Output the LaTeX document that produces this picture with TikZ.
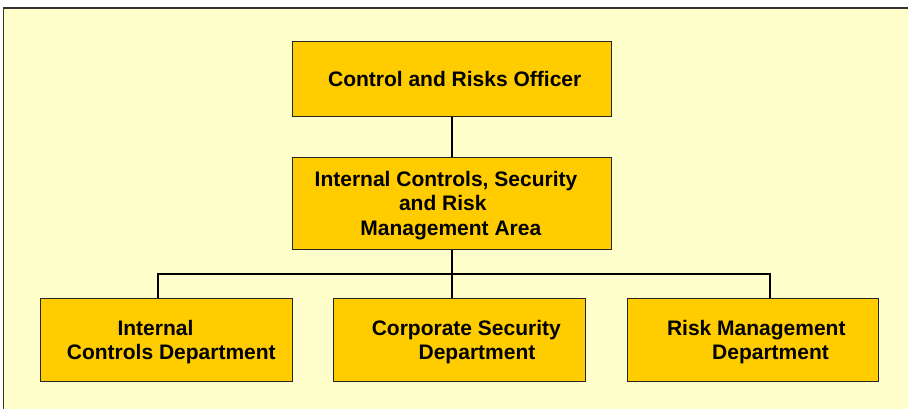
\documentclass[tikz,border=0pt]{standalone}
\usepackage{fontspec}
\setmainfont{Liberation Sans}
\definecolor{bgyellow}{HTML}{FFFFCC}
\definecolor{boxgold}{HTML}{FFCC00}
\definecolor{framegray}{HTML}{333333}
\begin{document}
\begin{tikzpicture}[x=1pt,y=-1pt,
  orgbox/.style={draw=black!85,line width=1pt,fill=boxgold,rectangle,inner sep=0pt},
  txt/.style={anchor=base,inner sep=0pt,font=\fontsize{21}{24.5}\selectfont\bfseries},
  conn/.style={draw=black,line width=2pt}]
\clip (0,0) rectangle (908,409);
\fill[white] (0,0) rectangle (908,409);
\draw[framegray,line width=1.5pt,fill=bgyellow] (3.5,8) rectangle (920,420);
% boxes
\node[orgbox,minimum width=319pt,minimum height=74.5pt] (top) at (451.5,79.25) {};
\node[orgbox,minimum width=319pt,minimum height=91pt] (mid) at (451.5,203.5) {};
\node[orgbox,minimum width=251.6pt,minimum height=83pt] (left) at (166.5,339.5) {};
\node[orgbox,minimum width=252pt,minimum height=83pt] (cen) at (459.7,339.5) {};
\node[orgbox,minimum width=251.7pt,minimum height=83pt] (right) at (752.85,339.5) {};
% texts
\node[txt] (t1) at (454.7,86.5) {Control and Risks Officer};
\node[txt] (m1) at (446,186.5) {Internal Controls, Security};
\node[txt] (m2) at (442.8,211) {and Risk};
\node[txt] (m3) at (450.8,235.5) {Management Area};
\node[txt] (l1) at (155.5,335.5) {Internal};
\node[txt] (l2) at (171.3,359) {Controls Department};
\node[txt] (c1) at (466.3,335.5) {Corporate Security};
\node[txt] (c2) at (477,359) {Department};
\node[txt] (r1) at (756.3,335.5) {Risk Management};
\node[txt] (r2) at (770.5,359) {Department};
% connectors
\coordinate (barL) at (158,273.7);
\coordinate (barR) at (770,273.7);
\draw[conn] (top.south) -- (mid.north);
\draw[conn] (mid.south) -- (cen.north -| mid.south);
\draw[conn] (left.north -| barL) -- (barL) -- (barR) -- (right.north -| barR);
\end{tikzpicture}
\end{document}
